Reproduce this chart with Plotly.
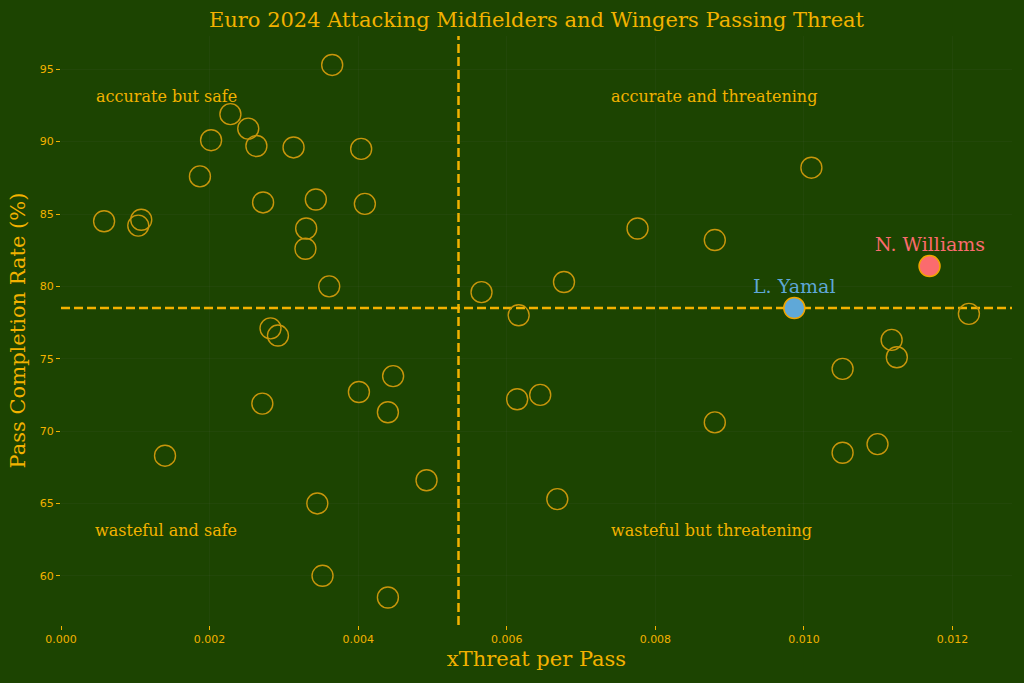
import plotly.graph_objects as go

# other players: xThreat per pass, pass completion %
xthreat = [0.00365, 0.00228, 0.00252, 0.00202, 0.00263, 0.00313, 0.00404, 0.00187,
           0.00272, 0.00343, 0.00409, 0.00058, 0.00108, 0.00104, 0.00330, 0.00329,
           0.00361, 0.00282, 0.00292,
           0.00447, 0.00401, 0.00271, 0.00440, 0.00140, 0.00492, 0.00345, 0.00352, 0.00440,
           0.00566, 0.00616, 0.00677, 0.00776, 0.00880, 0.01010, 0.01222, 0.01118,
           0.01125, 0.01052, 0.00614, 0.00645, 0.00880, 0.01052, 0.01099, 0.00668]
completion = [95.3, 91.9, 90.9, 90.1, 89.7, 89.6, 89.5, 87.6,
              85.8, 86.0, 85.7, 84.5, 84.6, 84.2, 84.0, 82.6,
              80.0, 77.1, 76.6,
              73.8, 72.7, 71.9, 71.3, 68.3, 66.6, 65.0, 60.0, 58.5,
              79.6, 78.0, 80.3, 84.0, 83.2, 88.2, 78.1, 76.3,
              75.1, 74.3, 72.2, 72.5, 70.6, 68.5, 69.1, 65.3]

# highlighted players
names = ["L. Yamal", "N. Williams"]
hl_xthreat = [0.00987, 0.01169]
hl_completion = [78.5, 81.4]
hl_colors = ["#5fa8d8", "#fb6b6e"]

# average lines
avg_xthreat = 0.00535
avg_completion = 78.5

bg = "#1c4401"
gold = "#f2b200"
font = "DejaVu Serif"

fig = go.Figure()

fig.add_trace(go.Scatter(x=xthreat, y=completion, mode="markers",
                         marker=dict(size=21, color="rgba(0,0,0,0)",
                                     line=dict(color="#c8960c", width=1.4)),
                         showlegend=False))

fig.add_vline(x=avg_xthreat, layer="below", line=dict(color=gold, width=2.5, dash="9px,4px"))
fig.add_hline(y=avg_completion, layer="below", line=dict(color=gold, width=2.5, dash="9px,4px"))

fig.add_trace(go.Scatter(x=hl_xthreat, y=hl_completion, mode="markers",
                         marker=dict(size=21, color=hl_colors,
                                     line=dict(color="#f0a500", width=1.5)),
                         showlegend=False))

for n, xv, yv, c in zip(names, hl_xthreat, hl_completion, hl_colors):
    fig.add_annotation(x=xv, y=yv, text=n, showarrow=False, yshift=22,
                       font=dict(family=font, size=19, color=c))

quadrants = [("accurate but safe", 0.00045, 93.1),
             ("accurate and threatening", 0.00737, 93.1),
             ("wasteful and safe", 0.00043, 63.1),
             ("wasteful but threatening", 0.00737, 63.1)]
for txt, xv, yv in quadrants:
    fig.add_annotation(x=xv, y=yv, text=txt, showarrow=False, xanchor="left",
                       font=dict(family=font, size=16, color=gold))

fig.update_layout(
    width=1024, height=683,
    paper_bgcolor=bg, plot_bgcolor=bg,
    font=dict(family=font, color=gold),
    margin=dict(l=61, r=12, t=36, b=58),
    title=dict(text="Euro 2024 Attacking Midfielders and Wingers Passing Threat",
               x=0.5, xref="paper", y=0.971, yanchor="middle",
               font=dict(family=font, size=21, color=gold)),
    xaxis=dict(range=[0, 0.0128], tickvals=[0, 0.002, 0.004, 0.006, 0.008, 0.010, 0.012],
               tickformat=".3f", ticks="outside", ticklen=4, tickcolor=gold,
               tickfont=dict(family="DejaVu Sans", size=11, color=gold),
               showgrid=True, gridcolor="rgba(110,110,110,0.08)", zeroline=False,
               showline=False,
               title=dict(text="xThreat per Pass", standoff=6,
                          font=dict(family=font, size=21, color=gold))),
    yaxis=dict(range=[56.6, 97.3], tickvals=[60, 65, 70, 75, 80, 85, 90, 95],
               ticks="outside", ticklen=4, tickcolor=gold,
               tickfont=dict(family="DejaVu Sans", size=11, color=gold),
               showgrid=True, gridcolor="rgba(110,110,110,0.08)", zeroline=False,
               showline=False,
               title=dict(text="Pass Completion Rate (%)", standoff=8,
                          font=dict(family=font, size=21, color=gold))),
)

fig.write_html("out.html", config={"displayModeBar": False},
               post_script="document.body.style.margin='0px';")
